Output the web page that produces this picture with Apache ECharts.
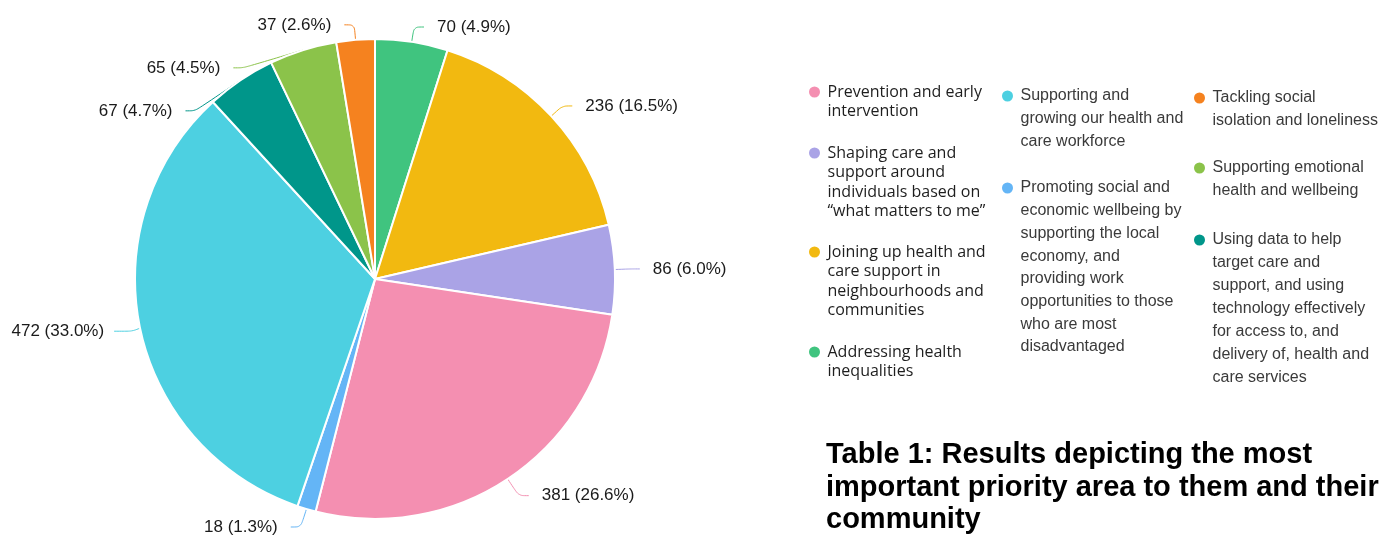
<!DOCTYPE html>
<html>
<head>
<meta charset="utf-8">
<script src="https://cdn.jsdelivr.net/npm/echarts@6/dist/echarts.min.js"></script>
<style>
html,body{margin:0;padding:0;background:#fff;}
#chart{width:1384px;height:538px;}
</style>
</head>
<body>
<div id="chart"></div>
<script>
// ---- data (pie order, clockwise from 12 o'clock) ----
const categories = [
  'Addressing health inequalities',
  'Joining up health and care support in neighbourhoods and communities',
  'Shaping care and support around individuals based on \u201cwhat matters to me\u201d',
  'Prevention and early intervention',
  'Promoting social and economic wellbeing by supporting the local economy, and providing work opportunities to those who are most disadvantaged',
  'Supporting and growing our health and care workforce',
  'Using data to help target care and support, and using technology effectively for access to, and delivery of, health and care services',
  'Supporting emotional health and wellbeing',
  'Tackling social isolation and loneliness'
];
const values = [70, 236, 86, 381, 18, 472, 67, 65, 37];
const colors = ['#40c47f', '#f2b910', '#aaa3e6', '#f48fb1', '#64b5f6', '#4dd0e1', '#00968a', '#8bc34a', '#f5821f'];

// legend text as it wraps in the reference
const legendLines = [
  ['Addressing health', 'inequalities'],
  ['Joining up health and', 'care support in', 'neighbourhoods and', 'communities'],
  ['Shaping care and', 'support around', 'individuals based on', '\u201cwhat matters to me\u201d'],
  ['Prevention and early', 'intervention'],
  ['Promoting social and', 'economic wellbeing by', 'supporting the local', 'economy, and', 'providing work', 'opportunities to those', 'who are most', 'disadvantaged'],
  ['Supporting and', 'growing our health and', 'care workforce'],
  ['Using data to help', 'target care and', 'support, and using', 'technology effectively', 'for access to, and', 'delivery of, health and', 'care services'],
  ['Supporting emotional', 'health and wellbeing'],
  ['Tackling social', 'isolation and loneliness']
];
const titleText = 'Table 1: Results depicting the most\nimportant priority area to them and their\ncommunity';

// ---- layout / style ----
const total = values.reduce((a, b) => a + b, 0);
const legendColumns = [
  { left: 807, font: "'Open Sans', 'Noto Sans', sans-serif", size: 16, lh: 19.5, color: '#1e1e1e', items: [3, 2, 1, 0], y: [92, 153, 252, 352] },
  { left: 1000, font: "'Liberation Sans', Arial, sans-serif", size: 16, lh: 22.7, color: '#3a3a3a', items: [5, 4], y: [96, 188] },
  { left: 1192, font: "'Liberation Sans', Arial, sans-serif", size: 16, lh: 22.9, color: '#3a3a3a', items: [8, 7, 6], y: [98, 168, 240] }
];
// per-slice label tweaks (style only)
const labelTweaks = {
  3: { labelLine: { length: 20 } },
  4: { labelLine: { length: 20 }, label: { lineHeight: 20 } },
  5: { labelLine: { length: 18, length2: 18 }, label: { distanceToLabelLine: 10 } }
};

// each legend entry: icon level with the first text line (blank lines above
// keep the text block centred on the icon's line)
const legends = [];
legendColumns.forEach(col => {
  col.items.forEach((idx, k) => {
    const n = legendLines[idx].length;
    const lines = new Array(n - 1).fill('').concat(legendLines[idx]);
    legends.push({
      show: true,
      orient: 'vertical',
      left: col.left,
      top: col.y[k] - (2 * n - 1) * col.lh / 2,
      padding: 0,
      icon: 'circle',
      itemWidth: 16,
      itemHeight: 13,
      selectedMode: false,
      data: [categories[idx]],
      formatter: () => lines.join('\n'),
      textStyle: {
        fontFamily: col.font,
        fontSize: col.size,
        lineHeight: col.lh,
        color: col.color
      }
    });
  });
});

const chart = echarts.init(document.getElementById('chart'), null, { renderer: 'canvas' });
chart.setOption({
  animation: false,
  backgroundColor: '#ffffff',
  color: colors,
  title: {
    text: titleText,
    left: 826,
    top: 439,
    padding: 0,
    textStyle: {
      fontFamily: "'Liberation Sans', Arial, sans-serif",
      fontWeight: 'bold',
      fontSize: 29,
      lineHeight: 32.5,
      color: '#000000'
    }
  },
  legend: legends,
  series: [{
    type: 'pie',
    center: [375, 279],
    radius: 240,
    startAngle: 90,
    clockwise: true,
    avoidLabelOverlap: true,
    itemStyle: { borderColor: '#ffffff', borderWidth: 2 },
    label: {
      show: true,
      position: 'outside',
      distanceToLabelLine: 13,
      fontFamily: "'Liberation Sans', Arial, sans-serif",
      fontSize: 17,
      lineHeight: 41,
      color: '#1a1a1a',
      formatter: p => p.value + ' (' + (p.value / total * 100).toFixed(1) + '%)'
    },
    labelLine: { show: true, length: 15, length2: 10, smooth: 0.3, lineStyle: { width: 1 } },
    emphasis: { disabled: true },
    data: categories.map((name, i) => Object.assign({ name: name, value: values[i] }, labelTweaks[i] || {}))
  }]
});
</script>
</body>
</html>
